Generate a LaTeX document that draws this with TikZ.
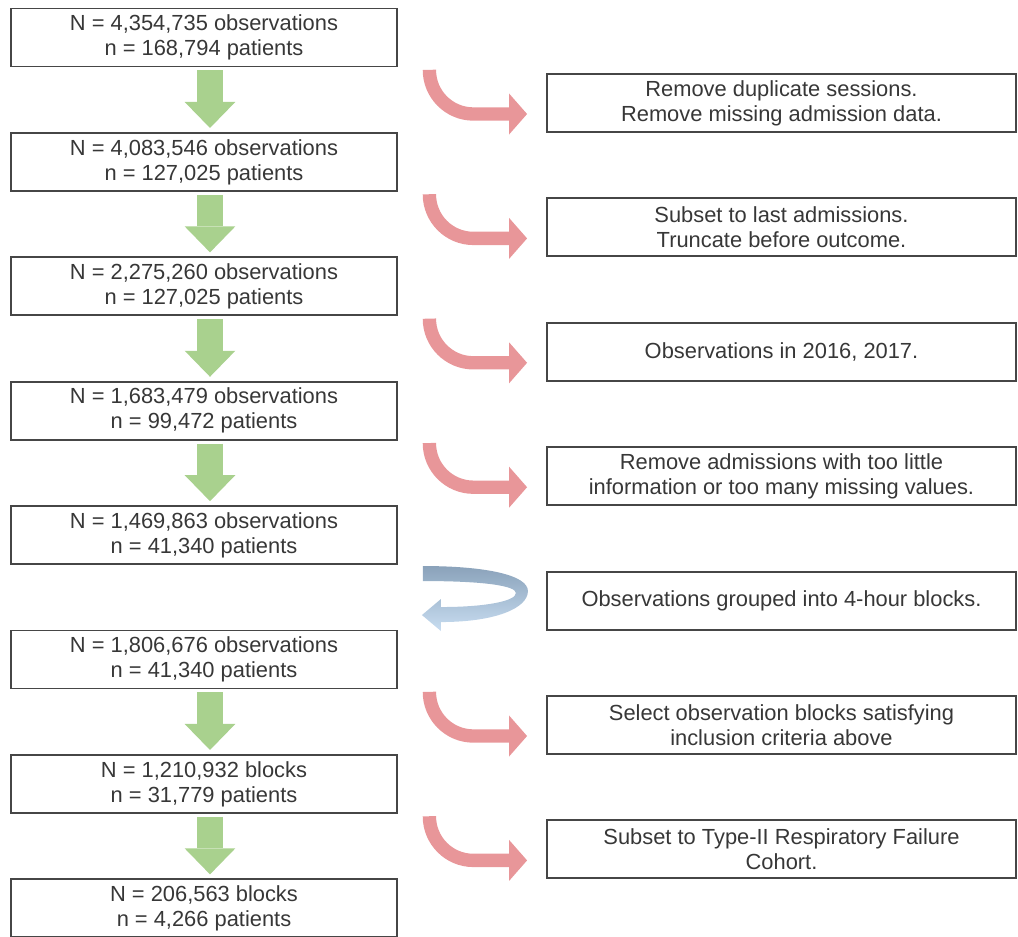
\documentclass[tikz,border=0pt]{standalone}
\usepackage{fontspec}
\setmainfont{Liberation Sans}
\usepackage{tikz}
\usetikzlibrary{arrows.meta}

\definecolor{boxline}{RGB}{70,70,70}
\definecolor{textgray}{RGB}{55,55,55}
\definecolor{arrgreen}{RGB}{169,209,142}
\definecolor{arrred}{RGB}{232,150,153}
\definecolor{arrblued}{RGB}{138,162,186}
\definecolor{arrbluel}{RGB}{200,221,241}

\begin{document}
\begin{tikzpicture}[x=0.75pt, y=-0.75pt,
    every node/.style={font=\fontsize{16.4}{18.8}\selectfont, text=textgray, align=center},
    leftbox/.style={draw=boxline, line width=1.4pt, minimum width=289.5pt, minimum height=43.5pt, inner sep=0pt},
    rightbox/.style={draw=boxline, line width=1.4pt, minimum width=351.75pt, minimum height=43.5pt, inner sep=0pt},
    greenarr/.style={draw=arrgreen, line width=20pt, -{Triangle[length=19.5pt, width=38pt, line width=0pt]}},
    redarr/.style={draw=arrred, line width=10pt, rounded corners=33pt, -{Triangle[length=13.5pt, width=30.75pt, line width=0pt]}}]
    \useasboundingbox (0,0) rectangle (1018,936);

    % counts
    \node[leftbox] (b1) at (204,37.5) {N = 4,354,735 observations\\n = 168,794 patients};
    \node[leftbox] (b2) at (204,161.9) {N = 4,083,546 observations\\n = 127,025 patients};
    \node[leftbox] (b3) at (204,286.3) {N = 2,275,260 observations\\n = 127,025 patients};
    \node[leftbox] (b4) at (204,410.7) {N = 1,683,479 observations\\n = 99,472 patients};
    \node[leftbox] (b5) at (204,535.1) {N = 1,469,863 observations\\n = 41,340 patients};
    \node[leftbox] (b6) at (204,659.5) {N = 1,806,676 observations\\n = 41,340 patients};
    \node[leftbox] (b7) at (204,783.9) {N = 1,210,932 blocks\\n = 31,779 patients};
    \node[leftbox] (b8) at (204,908.3) {N = 206,563 blocks\\n = 4,266 patients};

    % steps
    \node[rightbox] (r1) at (781.5,103) {Remove duplicate sessions.\\Remove missing admission data.};
    \node[rightbox] (r2) at (781.5,227.4) {Subset to last admissions.\\Truncate before outcome.};
    \node[rightbox] (r3) at (781.5,351.8) {Observations in 2016, 2017.};
    \node[rightbox] (r4) at (781.5,476.2) {Remove admissions with too little\\information or too many missing values.};
    \node[rightbox] (r5) at (781.5,600.6) {Observations grouped into 4-hour blocks.};
    \node[rightbox] (r6) at (781.5,725) {Select observation blocks satisfying\\inclusion criteria above};
    \node[rightbox] (r7) at (781.5,849.4) {Subset to Type-II Respiratory Failure\\Cohort.};

    % down arrows
    \draw[greenarr] ([xshift=4.5pt,yshift=-2.25pt]b1.south) -- ([xshift=4.5pt,yshift=3pt]b2.north);
    \draw[greenarr] ([xshift=4.5pt,yshift=-2.25pt]b2.south) -- ([xshift=4.5pt,yshift=3pt]b3.north);
    \draw[greenarr] ([xshift=4.5pt,yshift=-2.25pt]b3.south) -- ([xshift=4.5pt,yshift=3pt]b4.north);
    \draw[greenarr] ([xshift=4.5pt,yshift=-2.25pt]b4.south) -- ([xshift=4.5pt,yshift=3pt]b5.north);
    \draw[greenarr] ([xshift=4.5pt,yshift=-2.25pt]b6.south) -- ([xshift=4.5pt,yshift=3pt]b7.north);
    \draw[greenarr] ([xshift=4.5pt,yshift=-2.25pt]b7.south) -- ([xshift=4.5pt,yshift=3pt]b8.north);

    % side arrows
    \draw[redarr] ([xshift=23.6pt,yshift=-2.25pt]b1.south east) |- ([xshift=-14.25pt,yshift=-8.25pt]r1.west);
    \draw[redarr] ([xshift=23.6pt,yshift=-2.25pt]b2.south east) |- ([xshift=-14.25pt,yshift=-8.25pt]r2.west);
    \draw[redarr] ([xshift=23.6pt,yshift=-2.25pt]b3.south east) |- ([xshift=-14.25pt,yshift=-8.25pt]r3.west);
    \draw[redarr] ([xshift=23.6pt,yshift=-2.25pt]b4.south east) |- ([xshift=-14.25pt,yshift=-8.25pt]r4.west);
    \draw[redarr] ([xshift=23.6pt,yshift=-2.25pt]b6.south east) |- ([xshift=-14.25pt,yshift=-8.25pt]r6.west);
    \draw[redarr] ([xshift=23.6pt,yshift=-2.25pt]b7.south east) |- ([xshift=-14.25pt,yshift=-8.25pt]r7.west);

    % loop back into 4-hour blocks
    \begin{scope}[shift={(b5.south east)}]
        \shade[top color=arrblued, bottom color=arrbluel]
            (25,1) .. controls (88,1) and (130,10) .. (130,26)
            .. controls (130,43) and (98,57) .. (43,57)
            -- (43,66) -- (24,50) -- (43,34) -- (43,42)
            .. controls (88,42) and (118,36) .. (118,28)
            .. controls (118,21) and (88,16) .. (25,16) -- cycle;
    \end{scope}
\end{tikzpicture}
\end{document}
